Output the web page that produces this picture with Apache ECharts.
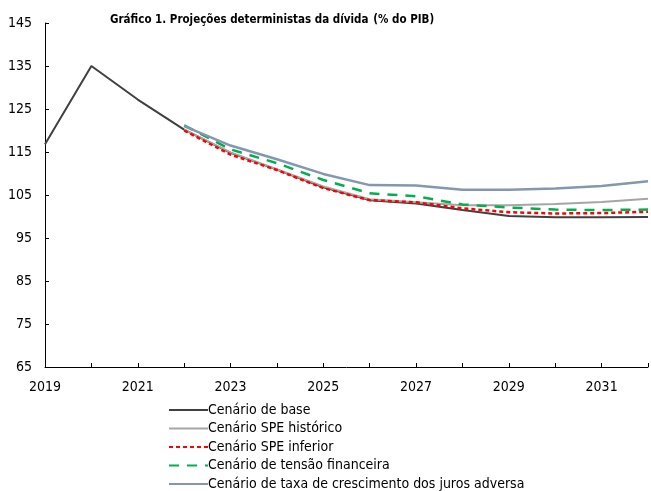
<!DOCTYPE html>
<html lang="pt">
<head>
  <meta charset="UTF-8">
  <title>Gráfico 1</title>
  <script src="https://cdn.jsdelivr.net/npm/echarts@6/dist/echarts.min.js"></script>
  <style>
    html, body { margin: 0; padding: 0; background: #fff; }
    #c1 { width: 651px; height: 491px; }
  </style>
</head>
<body>
<div id="c1"></div>
<script>
  // anos e cenários (% do PIB)
  var years = [2019, 2020, 2021, 2022, 2023, 2024, 2025, 2026, 2027, 2028, 2029, 2030, 2031, 2032];
  var base      = [116.8, 135.0, 127.2, 120.2, 114.8, 110.9, 106.8, 103.8, 103.0, 101.5, 100.1, 99.8, 99.8, 99.9];
  var historico = [null, null, null, 120.2, 114.9, 111.0, 107.0, 104.0, 103.3, 102.6, 102.6, 102.9, 103.4, 104.1];
  var inferior  = [null, null, null, 120.0, 114.4, 110.8, 106.6, 103.8, 103.3, 101.9, 101.0, 100.7, 100.8, 101.1];
  var tensao    = [null, null, null, 121.2, 115.6, 112.4, 108.5, 105.4, 104.7, 102.8, 102.1, 101.6, 101.5, 101.6];
  var adversa   = [null, null, null, 121.0, 116.5, 113.3, 109.9, 107.3, 107.2, 106.2, 106.2, 106.5, 107.1, 108.2];
  var names = [
    'Cenário de base',
    'Cenário SPE histórico',
    'Cenário SPE inferior',
    'Cenário de tensão financeira',
    'Cenário de taxa de crescimento dos juros adversa'
  ];
  var yTicks = [65, 75, 85, 95, 105, 115, 125, 135, 145];

  var font = '"DejaVu Sans Condensed", "Liberation Sans Narrow", "Liberation Sans", sans-serif';

  function pairs(arr) {
    var out = [];
    for (var i = 0; i < years.length; i++) {
      if (arr[i] !== null) out.push([years[i], arr[i]]);
    }
    return out;
  }

  function line(name, arr, color, width, dash) {
    return {
      name: name,
      type: 'line',
      data: pairs(arr),
      showSymbol: false,
      symbol: 'none',
      lineStyle: { color: color, width: width, type: dash || 'solid' },
      itemStyle: { color: color }
    };
  }

  var myChart = echarts.init(document.getElementById('c1'));
  var option = {
    animation: false,
    backgroundColor: '#ffffff',
    title: {
      text: '{b|Gráfico 1. Projeções deterministas da dívida} {n|(% do PIB)}',
      left: 110,
      top: 11,
      padding: 0,
      textStyle: {
        rich: {
          b: { fontFamily: font, fontSize: 11.5, fontWeight: 'bold', color: '#000' },
          n: { fontFamily: font, fontSize: 11.5, color: '#000' }
        }
      }
    },
    grid: { left: 45, top: 23, right: -5, bottom: 124 },
    legend: {
      orient: 'vertical',
      left: 168,
      top: 403,
      height: 120,
      padding: 0,
      itemWidth: 39,
      itemHeight: 12,
      itemGap: 4.5,
      itemStyle: { opacity: 0 },
      textStyle: { fontFamily: font, fontSize: 14, lineHeight: 14, color: '#000', padding: [0, 0, 0, -5] },
      data: names
    },
    xAxis: {
      type: 'value',
      min: 2019,
      max: 2032,
      interval: 1,
      splitLine: { show: false },
      axisLine: { lineStyle: { color: '#000', width: 1 } },
      axisTick: { inside: true, length: 4, lineStyle: { color: '#000' } },
      axisLabel: {
        margin: 13,
        fontFamily: font,
        fontSize: 14,
        color: '#000',
        formatter: function (v) { return (v % 2 === 1) ? String(v) : ''; }
      }
    },
    yAxis: {
      type: 'value',
      min: yTicks[0],
      max: yTicks[yTicks.length - 1],
      interval: 10,
      splitLine: { show: false },
      axisLine: { show: true, lineStyle: { color: '#000', width: 1 } },
      axisTick: { show: true, inside: true, length: 4, lineStyle: { color: '#000' } },
      axisLabel: { margin: 13, fontFamily: font, fontSize: 14, color: '#000' }
    },
    series: [
      line(names[0], base, '#404040', 2),
      line(names[1], historico, '#A6A6A6', 2),
      line(names[2], inferior, '#FF0000', 2.5, [4, 3]),
      line(names[3], tensao, '#00B050', 2.5, [10, 8]),
      line(names[4], adversa, '#8497B0', 2.5)
    ]
  };
  option && myChart.setOption(option);
</script>
</body>
</html>
